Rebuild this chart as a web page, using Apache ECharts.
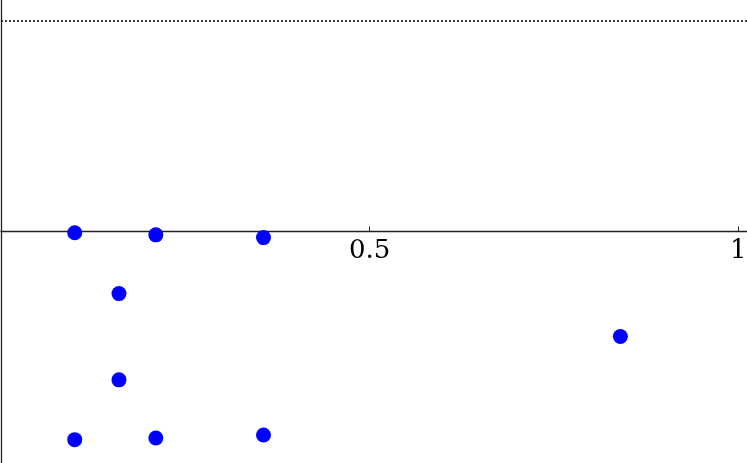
<!DOCTYPE html>
<html>
<head>
<meta charset="utf-8">
<script src="https://cdn.jsdelivr.net/npm/echarts@6/dist/echarts.min.js"></script>
<style>
  html, body { margin: 0; padding: 0; background: #fff; }
  #chart { width: 747px; height: 463px; }
</style>
</head>
<body>
<div id="chart"></div>
<script>
// point values
var xValues = [0.1, 0.21, 0.356, 0.16, 0.84, 0.16, 0.1, 0.21, 0.356];
var yValues = [-0.006, -0.016, -0.029, -0.295, -0.499, -0.705, -0.989, -0.981, -0.967];
// x tick labels
var xTicks = [0.5, 1];
// dotted reference line
var refLevel = 1;

var points = [];
for (var i = 0; i < xValues.length; i++) {
  points.push([xValues[i], yValues[i]]);
}

var W = 747, H = 463;
var yMin = -1.1, yMax = 1.1;
// x axis drawn at y = 0, moved up from the bottom edge of the grid
var zeroOffset = -H * (0 - yMin) / (yMax - yMin);

var myChart = echarts.init(document.getElementById('chart'));
var option = {
  animation: false,
  grid: { left: 1, right: 0, top: 0, bottom: 0, containLabel: false, outerBoundsMode: 'none' },
  xAxis: {
    type: 'value',
    position: 'bottom',
    offset: zeroOffset,
    min: 0,
    max: 1.0117,
    splitLine: { show: false },
    axisLine: { onZero: false, lineStyle: { color: '#222', width: 1.3 } },
    axisTick: {
      inside: true, length: 5, customValues: xTicks,
      lineStyle: { color: '#222', width: 1 }
    },
    axisLabel: {
      customValues: xTicks,
      margin: 7,
      color: '#000',
      fontFamily: 'DejaVu Serif',
      fontSize: 26,
      formatter: function (v) { return String(v); }
    }
  },
  yAxis: {
    type: 'value',
    min: yMin,
    max: yMax,
    splitLine: { show: false },
    axisLine: { onZero: false, lineStyle: { color: '#222', width: 1.3 } },
    axisTick: { show: false },
    axisLabel: { show: false }
  },
  series: [{
    type: 'scatter',
    data: points,
    symbolSize: 15,
    itemStyle: { color: '#0000ff', opacity: 1 },
    markLine: {
      silent: true,
      symbol: ['none', 'none'],
      label: { show: false },
      lineStyle: { color: '#000', width: 1.5, type: [2, 2] },
      data: [{ yAxis: refLevel }]
    }
  }]
};
myChart.setOption(option);
</script>
</body>
</html>
